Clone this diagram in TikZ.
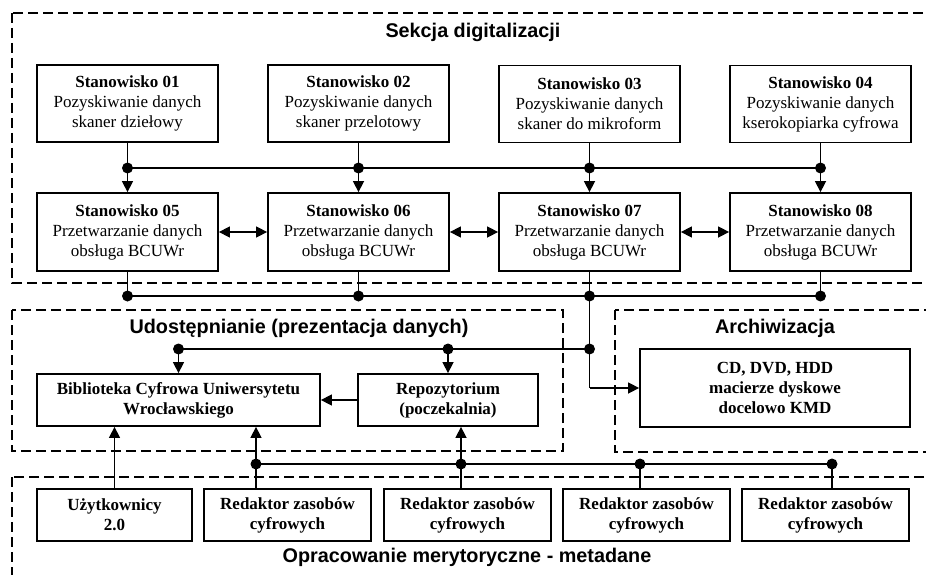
\documentclass[tikz,border=0pt]{standalone}
\usepackage{fontspec}
\setmainfont{Liberation Serif}
\newfontfamily\titlefont{Liberation Sans}
\usetikzlibrary{arrows.meta}
\begin{document}
\begin{tikzpicture}[x=1pt,y=-1pt,
  box/.style={draw, line width=1.8pt, inner sep=0pt, align=center, font=\fontsize{17}{20}\selectfont},
  bbox/.style={box, font=\fontsize{17}{20}\selectfont\bfseries},
  region/.style={draw, line width=2pt, dash pattern=on 10pt off 5pt},
  title/.style={font=\titlefont\bfseries\fontsize{19.8}{22}\selectfont, inner sep=0pt},
  conn/.style={line width=1.5pt},
  arr/.style={conn, -{Triangle[length=11pt,width=11pt]}},
  darr/.style={conn, {Triangle[length=11pt,width=11pt]}-{Triangle[length=11pt,width=11pt]}},
  st/.style={box, minimum width=181pt},
  ed/.style={bbox, minimum width=167pt, minimum height=52pt}
]
\clip (0,0) rectangle (926,575);
\fill[white] (0,0) rectangle (926,575);

% regions
\draw[region] (12,13) rectangle (940,283);
\draw[region] (12,310) rectangle (563,451);
\draw[region] (615,310) rectangle (940,452);
\draw[region] (12,477) rectangle (940,590);

\node[title] (t1) at (473,32) {Sekcja digitalizacji};
\node[title] (t2) at (299,328) {Udostępnianie (prezentacja danych)};
\node[title] (t3) at (775,328) {Archiwizacja};
\node[title] (t4) at (467,557) {Opracowanie merytoryczne - metadane};

% row 1
\node[st, minimum height=77pt] (s01) at (127.5,103.5) {\textbf{Stanowisko 01}\\Pozyskiwanie danych\\skaner dziełowy};
\node[st, minimum height=77pt] (s02) at (358.5,103.5) {\textbf{Stanowisko 02}\\Pozyskiwanie danych\\skaner przelotowy};
\node[st, minimum height=77pt] (s03) at (589.5,104) {\textbf{Stanowisko 03}\\Pozyskiwanie danych\\skaner do mikroform};
\node[st, minimum height=77pt] (s04) at (820.5,104) {\textbf{Stanowisko 04}\\Pozyskiwanie danych\\kserokopiarka cyfrowa};
% row 2
\node[st, minimum height=78pt] (s05) at (127.5,232) {\textbf{Stanowisko 05}\\Przetwarzanie danych\\obsługa BCUWr};
\node[st, minimum height=78pt] (s06) at (358.5,232) {\textbf{Stanowisko 06}\\Przetwarzanie danych\\obsługa BCUWr};
\node[st, minimum height=78pt] (s07) at (589.5,232) {\textbf{Stanowisko 07}\\Przetwarzanie danych\\obsługa BCUWr};
\node[st, minimum height=78pt] (s08) at (820.5,232) {\textbf{Stanowisko 08}\\Przetwarzanie danych\\obsługa BCUWr};

% udostepnianie
\node[bbox, minimum width=283pt, minimum height=52pt] (bib) at (178.5,400) {Biblioteka Cyfrowa Uniwersytetu\\Wrocławskiego};
\node[bbox, minimum width=180pt, minimum height=52pt] (repo) at (448,400) {Repozytorium\\(poczekalnia)};
% archiwizacja
\node[bbox, minimum width=270pt, minimum height=78pt] (cd) at (775,388) {CD, DVD, HDD\\macierze dyskowe\\docelowo KMD};
% bottom
\node[bbox, minimum width=155pt, minimum height=52pt] (uz) at (114.5,515) {Użytkownicy\\2.0};
\node[ed] (r1) at (287.5,515) {Redaktor zasobów\\cyfrowych};
\node[ed] (r2) at (467.5,515) {Redaktor zasobów\\cyfrowych};
\node[ed] (r3) at (646.5,515) {Redaktor zasobów\\cyfrowych};
\node[ed] (r4) at (825.5,515) {Redaktor zasobów\\cyfrowych};

% junction coordinates
\coordinate (j1) at (127.5,168);
\coordinate (j2) at (358.5,168);
\coordinate (j3) at (589.5,168);
\coordinate (j4) at (820.5,168);
\coordinate (k1) at (127.5,296);
\coordinate (k2) at (358.5,296);
\coordinate (k3) at (589.5,296);
\coordinate (k4) at (820.5,296);
\coordinate (m1) at (178.5,349);
\coordinate (m2) at (448,349);
\coordinate (m3) at (589.5,349);
\coordinate (m4) at (589.5,388);
\coordinate (n1) at (256,464);
\coordinate (n2) at (461,464);
\coordinate (n3) at (640,464);
\coordinate (n4) at (832,464);

% row1 -> row2
\draw[conn] (j1) -- (j4);
\foreach \a/\j/\b in {s01/j1/s05, s02/j2/s06, s03/j3/s07, s04/j4/s08}{
  \draw[conn] (\a) -- (\j);
  \draw[arr] (\j) -- (\b);
}
\draw[darr] (s05) -- (s06);
\draw[darr] (s06) -- (s07);
\draw[darr] (s07) -- (s08);

% row2 -> bottom bus
\draw[conn] (k1) -- (k4);
\foreach \a/\k in {s05/k1, s06/k2, s07/k3, s08/k4}{
  \draw[conn] (\a) -- (\k);
}
\draw[conn] (k3) -- (m3) -- (m4);
\draw[arr] (m4) -- (cd);
\draw[conn] (m1) -- (m3);
\draw[arr] (m1) -- (bib);
\draw[arr] (m2) -- (repo);
\draw[arr] (repo) -- (bib);

% bottom
\draw[arr] (uz.north) -- (uz.north |- bib.south);
\draw[conn] (n1) -- (n4);
\draw[conn] (r1.north -| n1) -- (n1);
\draw[arr] (n1) -- (n1 |- bib.south);
\draw[conn] (r2.north -| n2) -- (n2);
\draw[arr] (n2) -- (n2 |- repo.south);
\draw[conn] (r3.north -| n3) -- (n3);
\draw[conn] (r4.north -| n4) -- (n4);

% dots
\foreach \p in {j1,j2,j3,j4,k1,k2,k3,k4,m1,m2,m3,n1,n2,n3,n4}{
  \fill (\p) circle (5.5pt);
}
\end{tikzpicture}
\end{document}
